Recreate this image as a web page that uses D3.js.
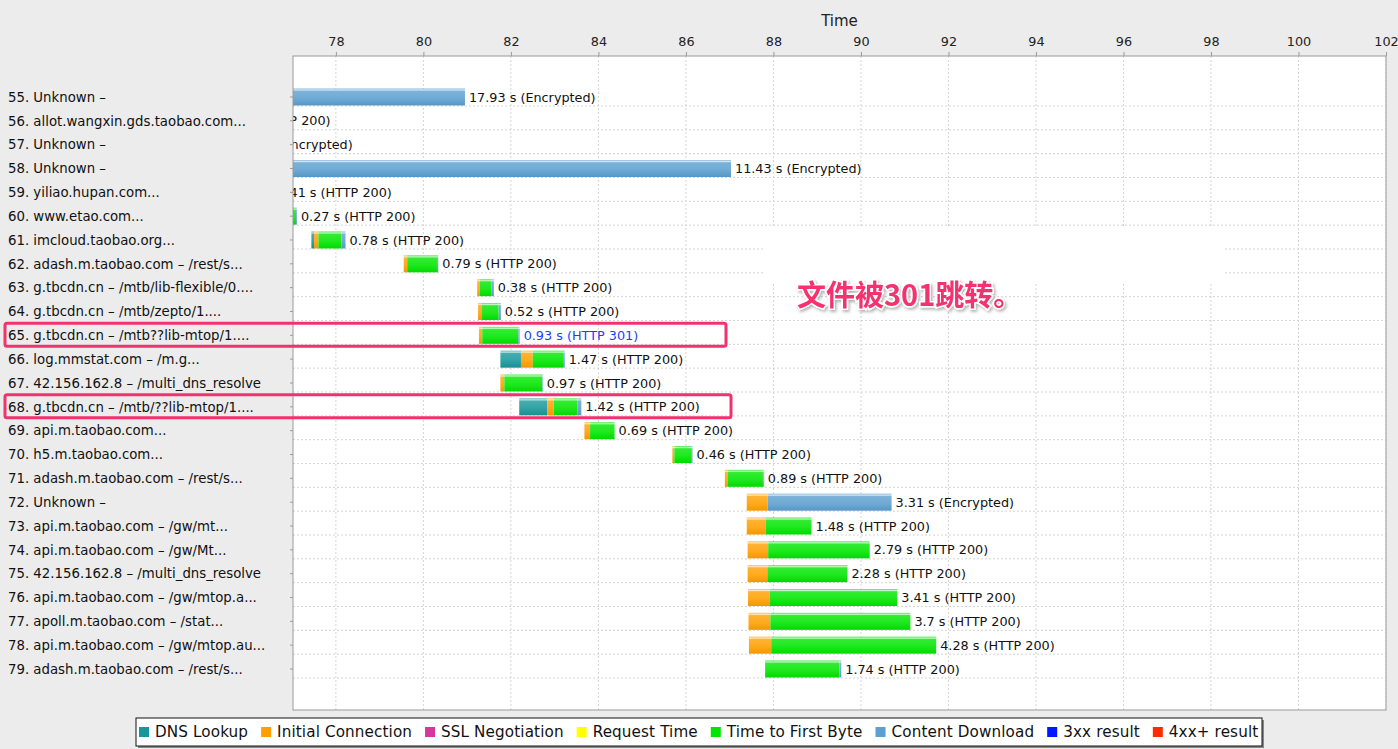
<!DOCTYPE html>
<html><head><meta charset="utf-8">
<script src="https://cdn.jsdelivr.net/npm/d3@7"></script>
<style>
html,body{margin:0;padding:0;background:#ececec;}
svg{display:block;}
</style></head>
<body>
<svg id="c" width="1398" height="749"></svg>
<script>
// ---------------- data ----------------
const rowLabels = [
  "55. Unknown –",
  "56. allot.wangxin.gds.taobao.com...",
  "57. Unknown –",
  "58. Unknown –",
  "59. yiliao.hupan.com...",
  "60. www.etao.com...",
  "61. imcloud.taobao.org...",
  "62. adash.m.taobao.com – /rest/s...",
  "63. g.tbcdn.cn – /mtb/lib-flexible/0....",
  "64. g.tbcdn.cn – /mtb/zepto/1....",
  "65. g.tbcdn.cn – /mtb??lib-mtop/1....",
  "66. log.mmstat.com – /m.g...",
  "67. 42.156.162.8 – /multi_dns_resolve",
  "68. g.tbcdn.cn – /mtb/??lib-mtop/1....",
  "69. api.m.taobao.com...",
  "70. h5.m.taobao.com...",
  "71. adash.m.taobao.com – /rest/s...",
  "72. Unknown –",
  "73. api.m.taobao.com – /gw/mt...",
  "74. api.m.taobao.com – /gw/Mt...",
  "75. 42.156.162.8 – /multi_dns_resolve",
  "76. api.m.taobao.com – /gw/mtop.a...",
  "77. apoll.m.taobao.com – /stat...",
  "78. api.m.taobao.com – /gw/mtop.au...",
  "79. adash.m.taobao.com – /rest/s..."
];
const startTimes = [63.02, 74.85, 75.27, 75.60, 76.16, 76.84, 77.44, 79.55, 81.23, 81.25, 81.27, 81.76, 81.76, 82.19, 83.68, 85.69, 86.89, 87.39, 87.39, 87.41, 87.41, 87.42, 87.43, 87.44, 87.81];
const dnsLookup    = [0, 0, 0, 0, 0, 0, 0.06, 0, 0, 0, 0, 0.47, 0, 0.64, 0, 0, 0, 0, 0, 0, 0, 0, 0, 0, 0];
const initialConn  = [0, 0.02, 0, 0, 0.03, 0.02, 0.10, 0.08, 0.06, 0.09, 0.075, 0.27, 0.09, 0.15, 0.13, 0.045, 0.07, 0.48, 0.43, 0.47, 0.45, 0.49, 0.50, 0.51, 0];
const sslNeg       = [0, 0, 0, 0, 0, 0, 0, 0, 0, 0, 0, 0, 0, 0, 0, 0, 0, 0, 0, 0, 0, 0, 0, 0, 0];
const requestTime  = [0, 0, 0, 0, 0, 0, 0, 0, 0, 0, 0, 0, 0, 0, 0, 0, 0, 0, 0, 0, 0, 0, 0, 0, 0];
const firstByte    = [0, 0.30, 0, 0, 0.36, 0.23, 0.53, 0.68, 0.27, 0.38, 0.825, 0.71, 0.87, 0.54, 0.56, 0.40, 0.80, 0, 1.05, 2.32, 1.83, 2.92, 3.20, 3.77, 1.70];
const contentDl    = [17.93, 0, 0.50, 11.43, 0.02, 0.02, 0.09, 0.03, 0.05, 0.05, 0.03, 0.02, 0.01, 0.09, 0, 0.015, 0.02, 2.83, 0, 0, 0, 0, 0, 0, 0.04];
const totals       = ["17.93", "0.32", "0.5", "11.43", "0.41", "0.27", "0.78", "0.79", "0.38", "0.52", "0.93", "1.47", "0.97", "1.42", "0.69", "0.46", "0.89", "3.31", "1.48", "2.79", "2.28", "3.41", "3.7", "4.28", "1.74"];
const statuses     = ["Encrypted", "HTTP 200", "Encrypted", "Encrypted", "HTTP 200", "HTTP 200", "HTTP 200", "HTTP 200", "HTTP 200", "HTTP 200", "HTTP 301", "HTTP 200", "HTTP 200", "HTTP 200", "HTTP 200", "HTTP 200", "HTTP 200", "Encrypted", "HTTP 200", "HTTP 200", "HTTP 200", "HTTP 200", "HTTP 200", "HTTP 200", "HTTP 200"];
const xTicks = [78, 80, 82, 84, 86, 88, 90, 92, 94, 96, 98, 100, 102];
const phaseNames = ["DNS Lookup", "Initial Connection", "SSL Negotiation", "Request Time", "Time to First Byte", "Content Download"];
const legendNames = ["DNS Lookup", "Initial Connection", "SSL Negotiation", "Request Time", "Time to First Byte", "Content Download", "3xx result", "4xx+ result"];
const legendColors = ["#16989b", "#ff9f00", "#d6379d", "#ffff00", "#00e600", "#5c9fd0", "#0018ff", "#ff2a00"];
const highlightedRows = ["65. g.tbcdn.cn – /mtb??lib-mtop/1....", "68. g.tbcdn.cn – /mtb/??lib-mtop/1...."];
const annotation = "文件被301跳转。";

// ---------------- layout ----------------
const W = 1398, H = 749;
const plot = {l: 293, r: 1386, t: 56, b: 710};
const svg = d3.select("#c");
const font = "'DejaVu Sans', sans-serif";

const x = d3.scaleLinear().domain([77.02, 102]).range([plot.l, plot.r]);
const y = d3.scaleBand().domain(rowLabels).range([plot.t, plot.b]).paddingInner(0).paddingOuter(1.22);
const barH = 17;

const phases = [dnsLookup, initialConn, sslNeg, requestTime, firstByte, contentDl];
const phaseColor = d3.scaleOrdinal().domain(phaseNames).range(legendColors.slice(0, 6));

svg.append("rect").attr("width", W).attr("height", H).attr("fill", "#ececec");

// gradients
const defs = svg.append("defs");
phaseNames.forEach((p, i) => {
  const c = d3.color(phaseColor(p));
  const g = defs.append("linearGradient").attr("id", "g" + i).attr("x1", 0).attr("x2", 0).attr("y1", 0).attr("y2", 1);
  const light = d3.interpolateRgb(c, "#fff");
  g.append("stop").attr("offset", "0%").attr("stop-color", light(0.25));
  g.append("stop").attr("offset", "9%").attr("stop-color", light(0.75));
  g.append("stop").attr("offset", "16%").attr("stop-color", light(0.2));
  g.append("stop").attr("offset", "55%").attr("stop-color", light(0.12));
  g.append("stop").attr("offset", "100%").attr("stop-color", c.darker(0.15));
});
defs.append("clipPath").attr("id", "clip").append("rect")
  .attr("x", plot.l).attr("y", plot.t).attr("width", plot.r - plot.l).attr("height", plot.b - plot.t);
const sh = defs.append("filter").attr("id", "shadow").attr("x", "-10%").attr("y", "-30%").attr("width", "130%").attr("height", "170%");
sh.append("feDropShadow").attr("dx", 1.5).attr("dy", 2).attr("stdDeviation", 1.5).attr("flood-color", "#000").attr("flood-opacity", 0.3);

// plot background
svg.append("rect").attr("x", plot.l).attr("y", plot.t).attr("width", plot.r - plot.l).attr("height", plot.b - plot.t).attr("fill", "#fff");

// grid
const grid = svg.append("g").attr("clip-path", "url(#clip)");
grid.selectAll("line.v").data(xTicks).join("line")
  .attr("x1", d => x(d)).attr("x2", d => x(d)).attr("y1", plot.t).attr("y2", plot.b)
  .attr("stroke", "#d4d4d4").attr("stroke-dasharray", "2,2");
grid.selectAll("line.h").data(rowLabels).join("line")
  .attr("x1", plot.l).attr("x2", plot.r)
  .attr("y1", d => y(d) + y.bandwidth() / 2 + 9).attr("y2", d => y(d) + y.bandwidth() / 2 + 9)
  .attr("stroke", "#d4d4d4").attr("stroke-dasharray", "2,2");

// erased patch behind annotation
svg.append("rect").attr("x", 765).attr("y", 226).attr("width", 458).attr("height", 56).attr("fill", "#fff");

// bars
const bars = svg.append("g").attr("clip-path", "url(#clip)");
rowLabels.forEach((lab, i) => {
  let t = startTimes[i];
  const cy = y(lab) + y.bandwidth() / 2;
  phases.forEach((arr, p) => {
    const d = arr[i];
    if (d > 0) {
      bars.append("rect").attr("x", x(t)).attr("y", cy - barH / 2)
        .attr("width", Math.max(0, x(t + d) - x(t))).attr("height", barH)
        .attr("fill", `url(#g${p})`);
      t += d;
    }
  });
  bars.append("text").attr("x", x(t) + 4).attr("y", cy).attr("dy", "0.36em")
    .attr("font-family", font).attr("font-size", 12.8)
    .attr("fill", statuses[i] === "HTTP 301" ? "#1c3cff" : "#111")
    .text(`${totals[i]} s (${statuses[i]})`);
});

// plot border
svg.append("rect").attr("x", plot.l).attr("y", plot.t).attr("width", plot.r - plot.l).attr("height", plot.b - plot.t)
  .attr("fill", "none").attr("stroke", "#9a9a9a");

// top axis
const xAxis = d3.axisTop(x).tickValues(xTicks).tickSize(4).tickFormat(d3.format("d"));
const ax = svg.append("g").attr("transform", `translate(0,${plot.t})`).call(xAxis);
ax.select(".domain").remove();
ax.selectAll(".tick line").attr("stroke", "#9a9a9a");
ax.selectAll(".tick text").attr("font-family", font).attr("font-size", 12.8).attr("fill", "#222").attr("dy", "-0.2em");
svg.append("text").attr("x", (plot.l + plot.r) / 2).attr("y", 26).attr("text-anchor", "middle")
  .attr("font-family", font).attr("font-size", 15).attr("fill", "#222").text("Time");

// left axis
const yAxis = d3.axisLeft(y).tickSize(3).tickFormat("");
const ay = svg.append("g").attr("transform", `translate(${plot.l},0)`).call(yAxis);
ay.select(".domain").remove();
ay.selectAll(".tick line").attr("stroke", "#9a9a9a");
svg.append("g").selectAll("text").data(rowLabels).join("text")
  .attr("x", 8).attr("y", d => y(d) + y.bandwidth() / 2).attr("dy", "0.36em")
  .attr("font-family", font).attr("font-size", 13.3).attr("fill", "#111").text(d => d);

// highlight boxes
svg.append("g").selectAll("rect").data(highlightedRows).join("rect")
  .attr("x", 5).attr("y", d => y(d) + y.bandwidth() / 2 - 12)
  .attr("width", (d, i) => i === 0 ? 721 : 726).attr("height", 23).attr("rx", 2)
  .attr("fill", "none").attr("stroke", "#f2326f").attr("stroke-width", 3);

// annotation
svg.append("text").attr("x", 797).attr("y", 306)
  .attr("font-family", "'Noto Sans CJK SC', sans-serif").attr("font-weight", "bold").attr("font-size", 29)
  .attr("fill", "#f4336f").attr("stroke", "#fff").attr("stroke-width", 3).attr("paint-order", "stroke")
  .attr("filter", "url(#shadow)").text(annotation);

// legend
const lg = svg.append("g");
lg.append("rect").attr("x", 138).attr("y", 720).attr("width", 1126).attr("height", 28).attr("fill", "#888");
lg.append("rect").attr("x", 136).attr("y", 718).attr("width", 1126).attr("height", 28).attr("fill", "#fff").attr("stroke", "#111");
let lx = 139;
legendNames.forEach((n, i) => {
  lg.append("rect").attr("x", lx).attr("y", 727).attr("width", 10).attr("height", 10).attr("fill", legendColors[i]);
  const t = lg.append("text").attr("x", lx + 16).attr("y", 732).attr("dy", "0.36em")
    .attr("font-family", font).attr("font-size", 15.2).attr("letter-spacing", 0.12).attr("fill", "#111").text(n);
  lx += 16 + t.node().getComputedTextLength() + 13;
});
</script>
</body></html>
